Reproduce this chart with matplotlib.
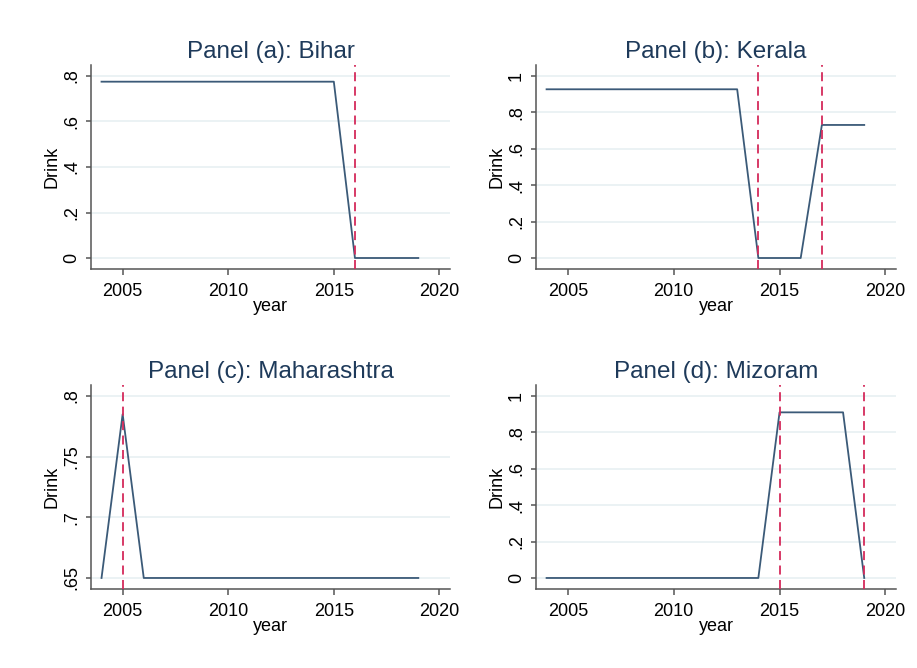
import matplotlib.pyplot as plt
import numpy as np

plt.rcParams['font.family'] = ['Liberation Sans', 'DejaVu Sans']

years = list(range(2004, 2020))

bihar = [0.775] * 12 + [0.0] * 4
kerala = [0.927] * 10 + [0.0] * 3 + [0.731] * 3
maharashtra = [0.65, 0.785] + [0.65] * 14
mizoram = [0.0] * 11 + [0.91] * 4 + [0.0]

titles = ['Panel (a): Bihar', 'Panel (b): Kerala', 'Panel (c): Maharashtra', 'Panel (d): Mizoram']
series = [bihar, kerala, maharashtra, mizoram]
policy_years = [[2016], [2014, 2017], [2005], [2015, 2019]]
yticks = [[0, 0.2, 0.4, 0.6, 0.8], [0, 0.2, 0.4, 0.6, 0.8, 1.0],
          [0.65, 0.7, 0.75, 0.8], [0, 0.2, 0.4, 0.6, 0.8, 1.0]]
ytick_labels = [['0', '.2', '.4', '.6', '.8'], ['0', '.2', '.4', '.6', '.8', '1'],
                ['.65', '.7', '.75', '.8'], ['0', '.2', '.4', '.6', '.8', '1']]
xticks = [2005, 2010, 2015, 2020]

line_color = '#3b5a78'
vline_color = '#d42a5b'
grid_color = '#e8f0f2'
axis_color = '#555555'

fig = plt.figure(figsize=(9.17, 6.68), dpi=100)
positions = [[0.0992, 0.5973, 0.3915, 0.3054],
             [0.5845, 0.5973, 0.3926, 0.3054],
             [0.0992, 0.1183, 0.3915, 0.3054],
             [0.5845, 0.1183, 0.3926, 0.3054]]

for i in range(4):
    ax = fig.add_axes(positions[i])
    yt = yticks[i]
    lo, hi = yt[0], yt[-1]
    pad = (hi - lo) * 11 / 182
    ax.set_ylim(lo - pad, hi + pad)
    ax.set_xlim(2003.5, 2020.5)
    for v in yt:
        ax.axhline(v, color=grid_color, lw=1.2, zorder=0)
    ax.plot(years, series[i], color=line_color, lw=1.3, zorder=2)
    for py in policy_years[i]:
        ax.axvline(py, color=vline_color, lw=1.3, ls=(0, (5, 3)), zorder=3)
    ax.set_yticks(yt)
    ax.set_yticklabels(ytick_labels[i], rotation=90, va='center', fontsize=13)
    ax.set_xticks(xticks)
    ax.set_xticklabels([str(x) for x in xticks], fontsize=13)
    ax.set_xlabel('year', fontsize=13, labelpad=-1)
    ax.set_ylabel('Drink', fontsize=13, labelpad=2)
    ax.set_title(titles[i], fontsize=17.5, color='#1e3a5a', pad=5)
    for s in ['top', 'right']:
        ax.spines[s].set_visible(False)
    for s in ['left', 'bottom']:
        ax.spines[s].set_color(axis_color)
        ax.spines[s].set_linewidth(1.1)
    ax.tick_params(axis='x', colors=axis_color, labelcolor='black', length=4.3, width=1.1, pad=5.5)
    ax.tick_params(axis='y', colors=axis_color, labelcolor='black', length=3.6, width=1.1, pad=4.3)

fig.savefig('out.png', dpi=100, facecolor='white')
